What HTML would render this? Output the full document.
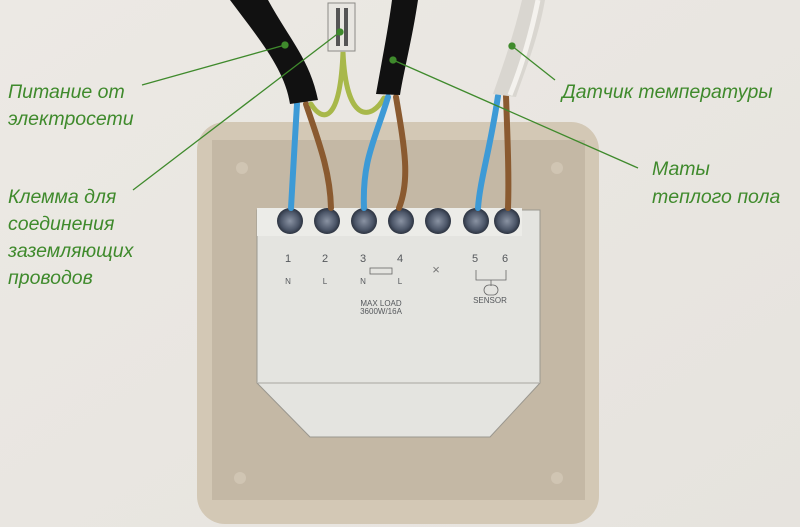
<!DOCTYPE html>
<html><head><meta charset="utf-8"><style>
html,body{margin:0;padding:0;background:#ebe8e3;}
svg{display:block}
text{font-family:"Liberation Sans","DejaVu Sans",sans-serif;}
.lbl{font-style:italic;fill:#3f8a2c;font-size:19.5px;}
</style></head><body>
<svg width="800" height="527" viewBox="0 0 800 527" xmlns="http://www.w3.org/2000/svg">
<defs>
<linearGradient id="bg" x1="0" y1="0" x2="1" y2="1"><stop offset="0" stop-color="#ece9e4"/><stop offset="1" stop-color="#e6e3de"/></linearGradient>
<radialGradient id="sc" cx="0.5" cy="0.5" r="0.5"><stop offset="0" stop-color="#8a93a3"/><stop offset="0.7" stop-color="#4c5668"/><stop offset="1" stop-color="#2c3340"/></radialGradient>
</defs>
<rect width="800" height="527" fill="url(#bg)"/>
<rect x="197" y="122" width="402" height="402" rx="28" fill="#d3c8b5"/>
<path d="M212 140 H585 V500 H212 Z" fill="#c4b8a5"/>
<circle cx="240" cy="478" r="6" fill="#d0c5b3"/><circle cx="557" cy="478" r="6" fill="#d0c5b3"/>
<circle cx="242" cy="168" r="6" fill="#d0c5b3"/><circle cx="557" cy="168" r="6" fill="#d0c5b3"/>
<path d="M257 210 H540 V383 L490 437 H310 L257 383 Z" fill="#e4e4e0" stroke="#9a978f" stroke-width="1"/>
<line x1="258" y1="383" x2="539" y2="383" stroke="#a8a69f"/>
<rect x="257" y="208" width="265" height="28" fill="#ecece8"/>
<g>
<circle cx="290" cy="221" r="13" fill="url(#sc)"/>
<circle cx="327" cy="221" r="13" fill="url(#sc)"/>
<circle cx="364" cy="221" r="13" fill="url(#sc)"/>
<circle cx="401" cy="221" r="13" fill="url(#sc)"/>
<circle cx="438" cy="221" r="13" fill="url(#sc)"/>
<circle cx="476" cy="221" r="13" fill="url(#sc)"/>
<circle cx="507" cy="221" r="13" fill="url(#sc)"/>
</g>
<g fill="#55585c" font-size="11" text-anchor="middle">
<text x="288" y="262">1</text><text x="325" y="262">2</text><text x="363" y="262">3</text><text x="400" y="262">4</text><text x="475" y="262">5</text><text x="505" y="262">6</text>
<text x="288" y="284" font-size="8">N</text><text x="325" y="284" font-size="8">L</text><text x="363" y="284" font-size="8">N</text><text x="400" y="284" font-size="8">L</text>
<text x="436" y="274" font-size="13" fill="#777">×</text>
<text x="381" y="306" font-size="8">MAX LOAD</text><text x="381" y="314" font-size="8">3600W/16A</text>
<text x="490" y="303" font-size="8">SENSOR</text>
</g>
<rect x="370" y="268" width="22" height="6" fill="none" stroke="#666" stroke-width="0.8"/>
<path d="M476 270 V280 H506 V270 M491 280 V286" fill="none" stroke="#666" stroke-width="0.8"/>
<rect x="484" y="285" width="14" height="10" rx="5" fill="none" stroke="#666" stroke-width="0.8"/>
<g fill="none" stroke-linecap="round">
<path d="M297 104 C295 140 293 170 291 208" stroke="#3d9ad6" stroke-width="6"/>
<path d="M306 104 C318 140 330 170 331 208" stroke="#8a5a30" stroke-width="6"/>
<path d="M311 104 C322 122 340 125 343 52 C346 125 372 120 384 98" stroke="#a8b84a" stroke-width="5"/>
<path d="M388 97 C375 140 362 160 364 208" stroke="#3d9ad6" stroke-width="6"/>
<path d="M396 97 C405 150 410 180 399 208" stroke="#8a5a30" stroke-width="6"/>
<path d="M498 96 C490 150 480 180 478 208" stroke="#3d9ad6" stroke-width="6"/>
<path d="M506 96 C508 150 509 180 508 208" stroke="#8a5a30" stroke-width="6"/>
</g>
<path d="M230 0 H268 C290 40 310 60 318 100 L290 104 C285 70 260 40 230 0 Z" fill="#111"/>
<path d="M392 0 H418 C412 40 404 70 400 95 L376 94 C382 60 388 30 392 0 Z" fill="#111"/>
<path d="M522 0 H545 C538 40 525 70 516 97 L493 94 C505 60 515 30 522 0 Z" fill="#d9d6d0"/>
<path d="M538 0 C530 40 520 70 510 95" stroke="#f4f2ee" stroke-width="5" fill="none"/>
<rect x="328" y="3" width="27" height="48" fill="#e8e6e1" stroke="#8b8a86"/>
<rect x="336" y="8" width="4" height="38" fill="#555"/><rect x="344" y="8" width="4" height="38" fill="#555"/>
<g stroke="#3f8a2c" stroke-width="1.3" fill="#3f8a2c">
<line x1="142" y1="85" x2="285" y2="45"/><circle cx="285" cy="45" r="3"/>
<line x1="133" y1="190" x2="340" y2="32"/><circle cx="340" cy="32" r="3"/>
<line x1="555" y1="80" x2="512" y2="46"/><circle cx="512" cy="46" r="3"/>
<line x1="638" y1="168" x2="393" y2="60"/><circle cx="393" cy="60" r="3"/>
</g>
<text class="lbl" x="8" y="98">Питание от</text>
<text class="lbl" x="8" y="125">электросети</text>
<text class="lbl" x="8" y="203">Клемма для</text>
<text class="lbl" x="8" y="230">соединения</text>
<text class="lbl" x="8" y="257">заземляющих</text>
<text class="lbl" x="8" y="284">проводов</text>
<text class="lbl" x="562" y="98">Датчик температуры</text>
<text class="lbl" x="652" y="175">Маты</text>
<text class="lbl" x="652" y="203">теплого пола</text>
</svg>
</body></html>
